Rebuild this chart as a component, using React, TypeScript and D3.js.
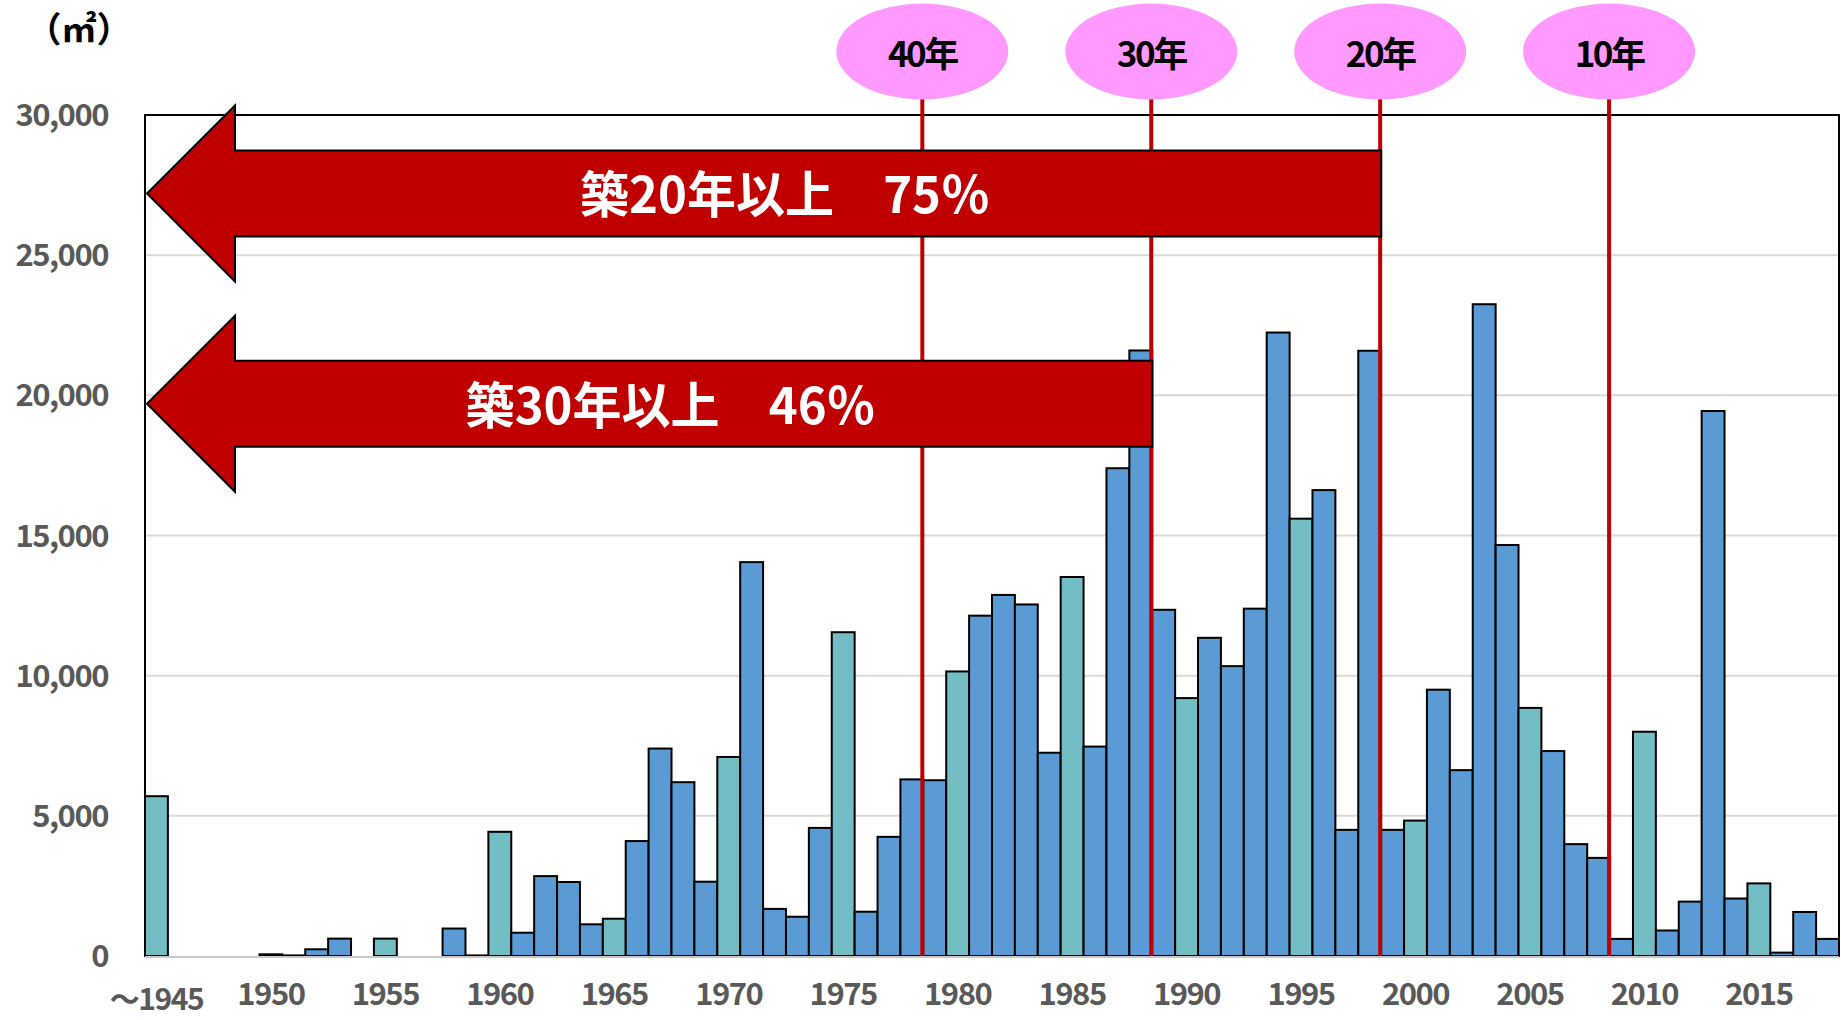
import React from 'react';
import * as d3 from 'd3';

// Building year (first is "～1945" = up to 1945)
const years = [
  1945, 1946, 1947, 1948, 1949, 1950, 1951, 1952, 1953, 1954,
  1955, 1956, 1957, 1958, 1959, 1960, 1961, 1962, 1963, 1964,
  1965, 1966, 1967, 1968, 1969, 1970, 1971, 1972, 1973, 1974,
  1975, 1976, 1977, 1978, 1979, 1980, 1981, 1982, 1983, 1984,
  1985, 1986, 1987, 1988, 1989, 1990, 1991, 1992, 1993, 1994,
  1995, 1996, 1997, 1998, 1999, 2000, 2001, 2002, 2003, 2004,
  2005, 2006, 2007, 2008, 2009, 2010, 2011, 2012, 2013, 2014,
  2015, 2016, 2017, 2018,
];

// floor area (m²) per building year
const areas = [
  5700, 0, 0, 0, 0, 60, 20, 240, 620, 0,
  620, 0, 0, 980, 20, 4430, 830, 2850, 2640, 1130,
  1330, 4100, 7400, 6200, 2650, 7100, 14050, 1680, 1400, 4570,
  11550, 1580, 4250, 6300, 6270, 10150, 12140, 12880, 12540, 7250,
  13520, 7470, 17400, 21600, 12350, 9200, 11350, 10340, 12390, 22240,
  15600, 16620, 4500, 21590, 4500, 4830, 9500, 6630, 23250, 14660,
  8850, 7310, 3990, 3500, 610, 8000, 910, 1940, 19440, 2050,
  2590, 120, 1570, 610,
];

const yTicks = [0, 5000, 10000, 15000, 20000, 25000, 30000];
const xTickYears = [1950, 1955, 1960, 1965, 1970, 1975, 1980, 1985, 1990, 1995, 2000, 2005, 2010, 2015];

// age markers: line drawn at the left edge of the given year
const markerLabels = ['40年', '30年', '20年', '10年'];
const markerYears = [1979, 1989, 1999, 2009];

// arrows: label, year where the arrow ends, vertical centre (m²)
const arrowLabels = ['築20年以上　75％', '築30年以上　46％'];
const arrowEndYears = [1999, 1989];
const arrowCenters = [27200, 19700];

const W = 1841;
const H = 1020;
const margin = { top: 115, right: 2, bottom: 64, left: 145 };
const FONT = '"Noto Sans CJK JP", "Noto Sans", sans-serif';

const BLUE = '#5B9BD5';
const TEAL = '#72BEC4';
const RED = '#C00000';

export default function App() {
  const x = d3
    .scaleBand<number>()
    .domain(years)
    .range([margin.left, W - margin.right])
    .paddingInner(0)
    .paddingOuter(0);
  const y = d3.scaleLinear().domain([0, 30000]).range([H - margin.bottom, margin.top]);
  const y0 = y(0);
  const bw = x.bandwidth();
  const fmt = d3.format(',');

  return (
    <svg
      width={W}
      height={H}
      style={{ position: 'absolute', left: 0, top: 0, background: '#fff' }}
      fontFamily={FONT}
    >
      {/* gridlines */}
      {yTicks.slice(1, -1).map((t) => (
        <line key={t} x1={margin.left} x2={W - margin.right} y1={y(t)} y2={y(t)} stroke="#d9d9d9" strokeWidth={2} />
      ))}

      {/* bars */}
      {years.map((yr, i) =>
        areas[i] > 0 ? (
          <rect
            key={yr}
            x={x(yr)}
            y={y(areas[i])}
            width={bw}
            height={y0 - y(areas[i])}
            fill={yr % 5 === 0 ? TEAL : BLUE}
            stroke="#000"
            strokeWidth={2}
          />
        ) : null
      )}

      {/* frame */}
      <line x1={margin.left} x2={W - margin.right} y1={y0 + 1} y2={y0 + 1} stroke="#c8c8c8" strokeWidth={2} />
      <path
        d={`M${margin.left},${y0}V${margin.top}H${W - margin.right}V${y0}`}
        fill="none"
        stroke="#000"
        strokeWidth={2}
      />

      {/* y labels */}
      {yTicks.map((t) => (
        <text
          key={t}
          x={108}
          y={y(t)}
          dy="0.36em"
          textAnchor="end"
          fontSize={31}
          fontWeight="bold"
          fill="#595959"
          letterSpacing={-1.5}
        >
          {fmt(t)}
        </text>
      ))}
      <text x={79} y={29} dy="0.36em" textAnchor="middle" fontSize={35} fontWeight="bold" fill="#000">
        （㎡）
      </text>

      {/* x labels */}
      {xTickYears.map((yr) => (
        <text
          key={yr}
          x={(x(yr) as number) + bw / 2}
          y={1005}
          textAnchor="middle"
          fontSize={31}
          fontWeight="bold"
          fill="#595959"
          letterSpacing={-1.5}
        >
          {yr}
        </text>
      ))}
      <text
        x={(x(1945) as number) + bw / 2}
        y={1010}
        textAnchor="middle"
        fontSize={30}
        fontWeight="bold"
        fill="#595959"
        letterSpacing={-1.5}
      >
        ～1945
      </text>

      {/* age lines + bubbles */}
      {markerYears.map((yr, i) => {
        const lx = (x(yr) as number) - 1;
        return (
          <g key={yr}>
            <line x1={lx} x2={lx} y1={96} y2={y0} stroke={RED} strokeWidth={4} />
            <ellipse cx={lx} cy={51.5} rx={86} ry={48} fill="#FF99FF" />
            <text
              x={lx}
              y={54}
              dy="0.36em"
              textAnchor="middle"
              fontSize={35}
              fontWeight="bold"
              fill="#000"
              letterSpacing={-2.5}
            >
              {markerLabels[i]}
            </text>
          </g>
        );
      })}

      {/* arrows */}
      {arrowLabels.map((label, i) => {
        const cy = y(arrowCenters[i]);
        const tipX = margin.left + 2;
        const headX = tipX + 88;
        const endX = x(arrowEndYears[i]) as number;
        const sh = 43;
        const hh = 88;
        const d = `M${tipX},${cy}L${headX},${cy - hh}V${cy - sh}H${endX}V${cy + sh}H${headX}V${cy + hh}Z`;
        const tx = (headX + endX) / 2 - 23;
        return (
          <g key={label}>
            <path d={d} fill={RED} stroke="#000" strokeWidth={2} />
            <text
              x={tx}
              y={cy + 2}
              dy="0.36em"
              textAnchor="middle"
              fontSize={50}
              fontWeight="bold"
              fill="#fff"
              textLength={410}
              lengthAdjust="spacingAndGlyphs"
            >
              {label}
            </text>
          </g>
        );
      })}
    </svg>
  );
}
